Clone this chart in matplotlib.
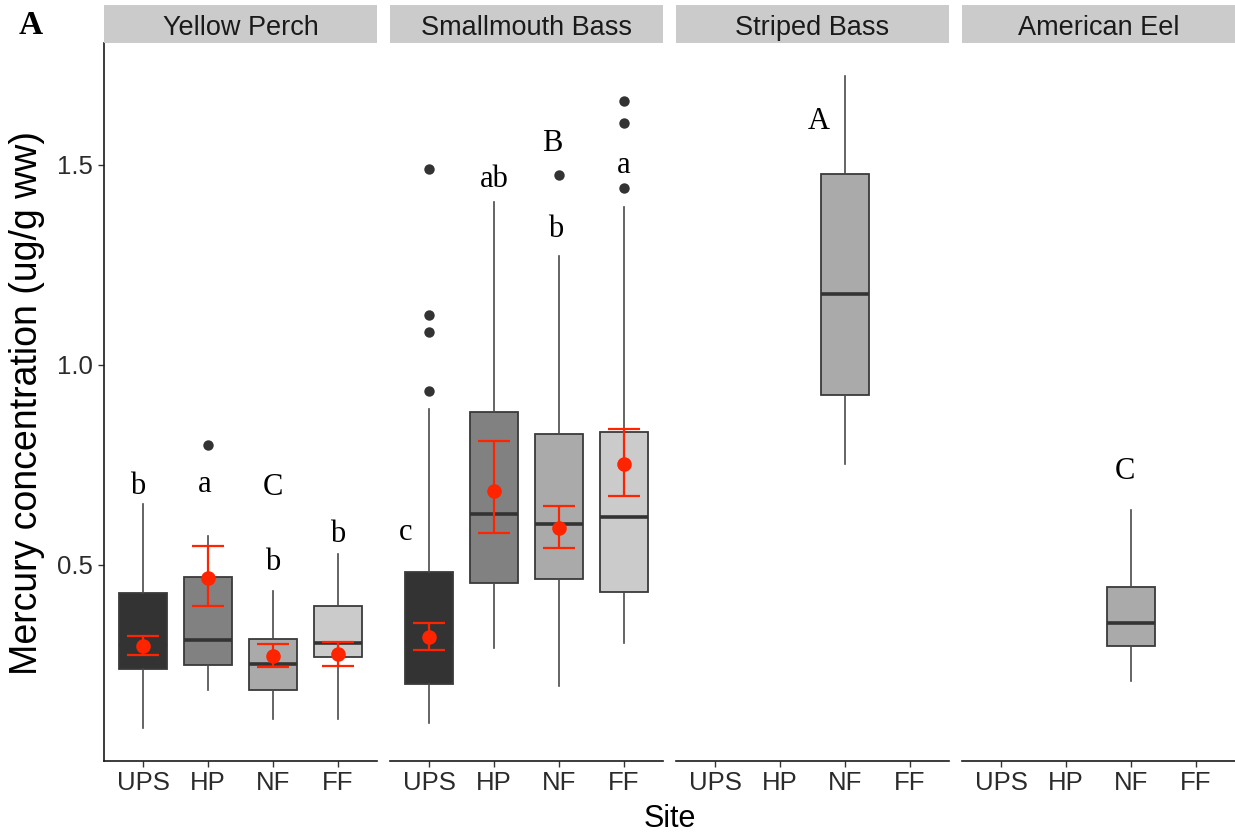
import matplotlib
matplotlib.use("Agg")
import matplotlib.pyplot as plt

# ---------------- data ----------------
species = ["Yellow Perch", "Smallmouth Bass", "Striped Bass", "American Eel"]
sites = ["UPS", "HP", "NF", "FF"]

# Yellow Perch
yp_whislo = [0.093, 0.188, 0.115, 0.115]
yp_q1 = [0.240, 0.250, 0.188, 0.269]
yp_med = [0.300, 0.3125, 0.252, 0.304]
yp_q3 = [0.431, 0.471, 0.314, 0.398]
yp_whishi = [0.6525, 0.573, 0.436, 0.5275]
yp_fliers = [[], [0.80], [], []]
yp_mean = [0.298, 0.467, 0.2725, 0.277]
yp_err_lo = [0.274, 0.3975, 0.246, 0.248]
yp_err_hi = [0.323, 0.548, 0.3025, 0.307]

# Smallmouth Bass
smb_whislo = [0.106, 0.292, 0.198, 0.304]
smb_q1 = [0.202, 0.454, 0.464, 0.433]
smb_med = [0.310, 0.6275, 0.6025, 0.621]
smb_q3 = [0.483, 0.882, 0.827, 0.832]
smb_whishi = [0.889, 1.408, 1.273, 1.396]
smb_fliers = [[0.935, 1.083, 1.125, 1.49], [], [1.475], [1.442, 1.604, 1.661]]
smb_mean = [0.319, 0.685, 0.592, 0.7525]
smb_err_lo = [0.287, 0.579, 0.542, 0.673]
smb_err_hi = [0.356, 0.811, 0.648, 0.839]

# Striped Bass (NF only)
stb_sites = ["NF"]
stb_whislo = [0.7525]
stb_q1 = [0.925]
stb_med = [1.1775]
stb_q3 = [1.4775]
stb_whishi = [1.7225]

# American Eel (NF only)
ae_sites = ["NF"]
ae_whislo = [0.21]
ae_q1 = [0.298]
ae_med = [0.354]
ae_q3 = [0.444]
ae_whishi = [0.6375]

# significance letters: (panel, site, text, x-offset in category units, baseline value)
letters = [
    (0, "UPS", "b", -0.08, 0.677),
    (0, "HP", "a", -0.05, 0.683),
    (0, "NF", "C", 0.0, 0.675),
    (0, "NF", "b", 0.0, 0.4875),
    (0, "FF", "b", 0.0, 0.557),
    (1, "UPS", "c", -0.36, 0.5625),
    (1, "HP", "ab", 0.0, 1.444),
    (1, "NF", "B", -0.11, 1.535),
    (1, "NF", "b", -0.05, 1.319),
    (1, "FF", "a", 0.0, 1.479),
    (2, "NF", "A", -0.41, 1.589),
    (3, "NF", "C", -0.1, 0.714),
]

site_fill = {"UPS": "#333333", "HP": "#818181", "NF": "#AAAAAA", "FF": "#CBCBCB"}

# ---------------- figure ----------------
W, H = 1235, 839
fig = plt.figure(figsize=(W / 100, H / 100), dpi=100)
sans = ["Liberation Sans", "DejaVu Sans"]
serif = ["Liberation Serif", "DejaVu Serif"]
plt.rcParams["font.family"] = sans

panel_left_px = [104, 390, 676, 962]
panel_w_px = 273
ax_bottom_px, ax_top_px = 761, 43
strip_top_px = 5

panels = [
    dict(sites=sites, whislo=yp_whislo, q1=yp_q1, med=yp_med, q3=yp_q3, whishi=yp_whishi,
         fliers=yp_fliers, mean=yp_mean, lo=yp_err_lo, hi=yp_err_hi),
    dict(sites=sites, whislo=smb_whislo, q1=smb_q1, med=smb_med, q3=smb_q3, whishi=smb_whishi,
         fliers=smb_fliers, mean=smb_mean, lo=smb_err_lo, hi=smb_err_hi),
    dict(sites=stb_sites, whislo=stb_whislo, q1=stb_q1, med=stb_med, q3=stb_q3, whishi=stb_whishi,
         fliers=[[]], mean=None, lo=None, hi=None),
    dict(sites=ae_sites, whislo=ae_whislo, q1=ae_q1, med=ae_med, q3=ae_q3, whishi=ae_whishi,
         fliers=[[]], mean=None, lo=None, hi=None),
]

red = "#FF2400"
axes = []
for i, (sp, pdata) in enumerate(zip(species, panels)):
    left = panel_left_px[i] / W
    bottom = (H - ax_bottom_px) / H
    height = (ax_bottom_px - ax_top_px) / H
    ax = fig.add_axes([left, bottom, panel_w_px / W, height])
    axes.append(ax)

    pos = [sites.index(s) + 1 for s in pdata["sites"]]
    stats = []
    for k in range(len(pos)):
        stats.append(dict(whislo=pdata["whislo"][k], q1=pdata["q1"][k], med=pdata["med"][k],
                          q3=pdata["q3"][k], whishi=pdata["whishi"][k],
                          fliers=pdata["fliers"][k]))
    bp = ax.bxp(stats, positions=pos, widths=0.75, patch_artist=True, showcaps=False,
                boxprops=dict(edgecolor="#3a3a3a", linewidth=1.3),
                medianprops=dict(color="#333333", linewidth=2.6, solid_capstyle="butt"),
                whiskerprops=dict(color="#4a4a4a", linewidth=1.2),
                flierprops=dict(marker="o", markerfacecolor="#333333", markeredgecolor="none",
                                markersize=7.5))
    for patch, s in zip(bp["boxes"], pdata["sites"]):
        patch.set_facecolor(site_fill[s])

    if pdata["mean"] is not None:
        ax.vlines(pos, pdata["lo"], pdata["hi"], color=red, linewidth=1.6, zorder=5)
        ax.hlines(pdata["lo"], [p - 0.25 for p in pos], [p + 0.25 for p in pos],
                  color=red, linewidth=1.6, zorder=5)
        ax.hlines(pdata["hi"], [p - 0.25 for p in pos], [p + 0.25 for p in pos],
                  color=red, linewidth=1.6, zorder=5)
        ax.plot(pos, pdata["mean"], "o", color=red, markersize=10.5, zorder=6,
                markeredgecolor="none")

    ax.set_xlim(0.4, 4.6)
    ax.set_ylim(0.01, 1.805)
    ax.set_xticks(range(1, 5))
    ax.set_xticklabels(sites)
    ax.set_yticks([0.5, 1.0, 1.5])
    ax.tick_params(axis="x", length=4, width=1.0, color="#333333", pad=3,
                   labelsize=18.5, labelcolor="#2b2b2b")
    ax.tick_params(axis="y", length=4, width=1.0, color="#333333", pad=4,
                   labelsize=18.5, labelcolor="#2b2b2b")
    for side in ["top", "right"]:
        ax.spines[side].set_visible(False)
    ax.spines["bottom"].set_linewidth(1.2)
    ax.spines["bottom"].set_color("#1a1a1a")
    if i == 0:
        ax.spines["left"].set_linewidth(1.2)
        ax.spines["left"].set_color("#1a1a1a")
    else:
        ax.spines["left"].set_visible(False)
        ax.tick_params(axis="y", left=False, labelleft=False)

    # strip
    sax = fig.add_axes([left, (H - ax_top_px) / H, panel_w_px / W, (ax_top_px - strip_top_px) / H])
    sax.set_facecolor("#CBCBCB")
    sax.set_xticks([])
    sax.set_yticks([])
    for s in sax.spines.values():
        s.set_visible(False)
    sax.text(0.5, 0.40, sp, ha="center", va="center", fontsize=19.5, color="#1a1a1a",
             transform=sax.transAxes)

for (pi, site, txt, dx, yb) in letters:
    axes[pi].text(sites.index(site) + 1 + dx, yb, txt, ha="center", va="baseline",
                  fontsize=22, family=serif, color="black", zorder=7)

fig.text(670 / W, (H - 827) / H, "Site", ha="center", va="baseline", fontsize=22, color="black")
fig.text(27 / W, (H - 403) / H, "Mercury concentration (ug/g ww)", ha="center", va="center",
         rotation=90, fontsize=27, color="black")
fig.text(31 / W, (H - 34) / H, "A", ha="center", va="baseline", fontsize=24, family=serif,
         fontweight="bold", color="black")

fig.savefig("out.png", dpi=100)
